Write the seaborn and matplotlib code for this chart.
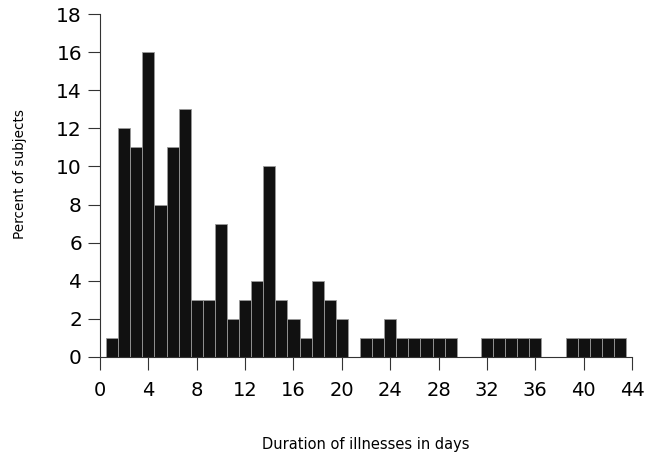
import matplotlib
matplotlib.use("Agg")
import matplotlib.pyplot as plt
import seaborn as sns
import pandas as pd

days = list(range(1, 44))
percent = [1, 12, 11, 16, 8, 11, 13, 3, 3, 7,
           2, 3, 4, 10, 3, 2, 1, 4, 3, 2,
           0, 1, 1, 2, 1, 1, 1, 1, 1, 0,
           0, 1, 1, 1, 1, 1, 0, 0, 1, 1,
           1, 1, 1]
x_ticks = list(range(0, 45, 4))
y_ticks = list(range(0, 19, 2))

sns.set_theme(style="ticks")
plt.rcParams['font.family'] = ['DejaVu Sans']
plt.rcParams['text.color'] = 'black'
plt.rcParams['axes.labelcolor'] = 'black'
plt.rcParams['xtick.labelcolor'] = 'black'
plt.rcParams['ytick.labelcolor'] = 'black'

df = pd.DataFrame({"days": days, "percent": percent})

fig = plt.figure(figsize=(6.45, 4.55), dpi=100)
ax = fig.add_axes([100/645, 1-357/455, 532/645, 343/455])

sns.histplot(data=df, x="days", weights="percent", discrete=True, shrink=1,
             color="#111111", edgecolor="#9a9a9a", linewidth=0.6, alpha=1,
             ax=ax)

ax.set_xlim(0, 44)
ax.set_ylim(0, 18)
ax.set_xticks(x_ticks)
ax.set_yticks(y_ticks)
ax.tick_params(axis="x", labelsize=14, length=9, width=0.8, color="#333333",
               labelcolor="black", pad=8, direction="out")
ax.tick_params(axis="y", labelsize=14.5, length=9, width=0.8, color="#333333",
               labelcolor="black", pad=4, direction="out")
for s in ["top", "right"]:
    ax.spines[s].set_visible(False)
for s in ["left", "bottom"]:
    ax.spines[s].set_linewidth(0.8)
    ax.spines[s].set_color("#333333")

ax.set_xlabel("Duration of illnesses in days", fontsize=10.5, color="black")
ax.set_ylabel("Percent of subjects", fontsize=9.8, color="black")
ax.xaxis.set_label_coords(0.5, -0.232)
ax.yaxis.set_label_coords(-0.137, 0.534)

fig.savefig("out.png", dpi=100)
